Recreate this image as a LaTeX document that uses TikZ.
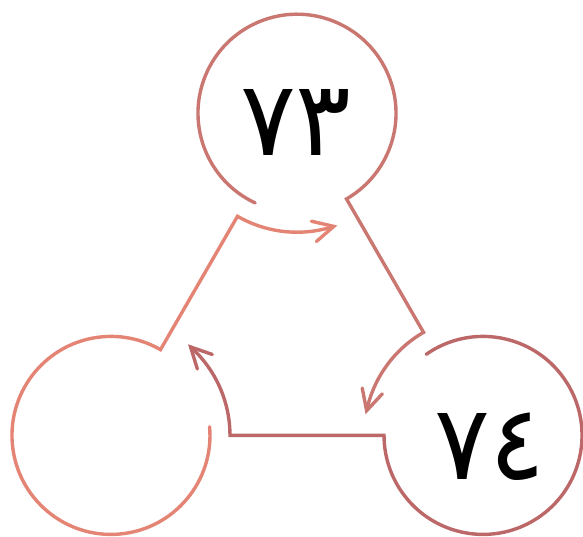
\documentclass[tikz,border=0pt]{standalone}
\usepackage{fontspec}
\usetikzlibrary{calc}
\newfontfamily\arabicfont[Script=Arabic]{DejaVu Sans}
\definecolor{cleft}{RGB}{228,132,117}
\definecolor{ctop}{RGB}{202,118,113}
\definecolor{cright}{RGB}{188,104,104}
\begin{document}
\begin{tikzpicture}[x=1pt,y=1pt,
  cyc/.style={line width=3.4pt, line cap=round, line join=miter},
  barb/.style={line width=3.4pt, line cap=round, line join=miter},
  num/.style={font=\arabicfont\fontsize{104}{104}\selectfont, inner sep=0pt}]
\useasboundingbox (0,0) rectangle (583,-536);
\coordinate (C) at (297,-328);
\coordinate (T) at ($(C)+(90:214.8)$);
\coordinate (L) at ($(C)+(210:214.8)$);
\coordinate (R) at ($(C)+(330:214.8)$);
\coordinate (tipLT) at ($(T)+(288:119)$);
\coordinate (tipTR) at ($(R)+(168:119)$);
\coordinate (tipRL) at ($(L)+(48:119)$);
% left circle and its connector to top
\draw[cyc, cleft] ($(L)+(5:99)$) arc[start angle=5, end angle=-300, radius=99]
  -- ($(T)+(240:119)$) arc[start angle=240, end angle=288, radius=119];
\draw[barb, cleft] ($(tipLT)+(167:23)$) -- (tipLT) -- ($(tipLT)+(221:23)$);
% top circle and its connector to right
\draw[cyc, ctop] ($(T)+(245:99)$) arc[start angle=245, end angle=-60, radius=99]
  -- ($(R)+(120:119)$) arc[start angle=120, end angle=168, radius=119];
\draw[barb, ctop] ($(tipTR)+(47:23)$) -- (tipTR) -- ($(tipTR)+(101:23)$);
% right circle and its connector to left
\draw[cyc, cright] ($(R)+(125:99)$) arc[start angle=125, end angle=-180, radius=99]
  -- ($(L)+(0:119)$) arc[start angle=0, end angle=48, radius=119];
\draw[barb, cright] ($(tipRL)+(287:23)$) -- (tipRL) -- ($(tipRL)+(341:23)$);
\node[num] (t73) at (296,-122) {٧٣};
\node[num] (t74) at (490,-447) {٧٤};
\end{tikzpicture}
\end{document}
